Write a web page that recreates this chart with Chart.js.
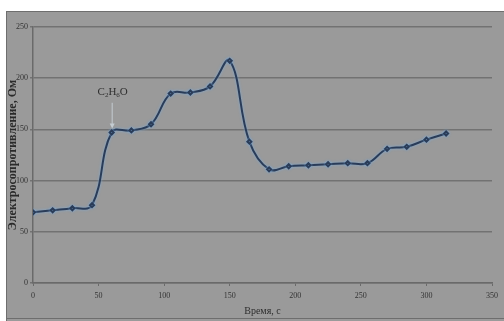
<!DOCTYPE html>
<html>
<head>
<meta charset="utf-8">
<script src="https://cdn.jsdelivr.net/npm/chart.js@4/dist/chart.umd.min.js"></script>
<style>
  html, body { margin: 0; padding: 0; background: #ffffff; }
  #wrap { width: 504px; height: 321px; position: relative; }
</style>
</head>
<body>
<div id="wrap"><canvas id="c" width="504" height="321"></canvas></div>
<script>
// ---- data ----
const timeValues = [0, 15, 30, 45, 60, 75, 90, 105, 120, 135, 150, 165, 180, 195, 210, 225, 240, 255, 270, 285, 300, 315];
const resistance = [69, 71, 73, 76, 147, 149, 155, 185, 186, 192, 217, 138, 111, 114, 115, 116, 117, 117, 131, 133, 140, 146];
const xTicks = [0, 50, 100, 150, 200, 250, 300, 350];
const yTicks = [0, 50, 100, 150, 200, 250];
const xTitle = "Время, с";
const yTitle = "Электросопротивление, Ом";
const annotation = { x: 60, lineTop: 176, lineBottom: 151, textY: 184 };

const points = timeValues.map((t, i) => ({ x: t, y: resistance[i] }));
const textColor = '#333333';

const bgPlugin = {
  id: 'bg',
  beforeDraw(chart) {
    const ctx = chart.ctx;
    ctx.save();
    ctx.fillStyle = '#ffffff';
    ctx.fillRect(0, 0, chart.width, chart.height);
    ctx.fillStyle = '#9a9a9a';
    ctx.fillRect(6, 11, chart.width - 6, chart.height - 11);
    ctx.strokeStyle = '#6e6e6e';
    ctx.lineWidth = 1;
    ctx.beginPath();
    ctx.moveTo(6, 11.5); ctx.lineTo(chart.width, 11.5);
    ctx.moveTo(6.5, 11); ctx.lineTo(6.5, chart.height);
    ctx.moveTo(6, 318.5); ctx.lineTo(chart.width, 318.5);
    ctx.stroke();
    ctx.restore();
  }
};

const glowPlugin = {
  id: 'glow',
  beforeDatasetDraw(chart) {
    const ctx = chart.ctx;
    ctx.save();
    ctx.shadowColor = 'rgba(120,170,220,0.9)';
    ctx.shadowBlur = 3;
  },
  afterDatasetDraw(chart) {
    chart.ctx.restore();
  }
};

const annoPlugin = {
  id: 'anno',
  afterDatasetsDraw(chart) {
    const ctx = chart.ctx;
    const xs = chart.scales.x, ys = chart.scales.y;
    const x = xs.getPixelForValue(annotation.x);
    const y1 = ys.getPixelForValue(annotation.lineTop);
    const y2 = ys.getPixelForValue(annotation.lineBottom);
    ctx.save();
    ctx.strokeStyle = '#c4ccd2';
    ctx.fillStyle = '#c4ccd2';
    ctx.lineWidth = 1;
    ctx.beginPath();
    ctx.moveTo(x + 0.5, y1);
    ctx.lineTo(x + 0.5, y2 - 3);
    ctx.stroke();
    ctx.beginPath();
    ctx.moveTo(x + 0.5, y2);
    ctx.lineTo(x - 2, y2 - 5);
    ctx.lineTo(x + 3, y2 - 5);
    ctx.closePath();
    ctx.fill();
    // label C2H6O
    const ty = ys.getPixelForValue(annotation.textY);
    ctx.fillStyle = '#2e2e2e';
    ctx.textBaseline = 'alphabetic';
    const big = '11px "Liberation Serif", serif';
    const small = '7px "Liberation Serif", serif';
    const parts = [['C', big, 0], ['2', small, 2], ['H', big, 0], ['6', small, 2], ['O', big, 0]];
    let total = 0;
    parts.forEach(p => { ctx.font = p[1]; total += ctx.measureText(p[0]).width; });
    let cx = x + 1 - total / 2;
    parts.forEach(p => {
      ctx.font = p[1];
      ctx.fillText(p[0], cx, ty + p[2]);
      cx += ctx.measureText(p[0]).width;
    });
    ctx.restore();
  }
};

new Chart(document.getElementById('c'), {
  type: 'line',
  data: {
    datasets: [{
      data: points,
      borderColor: '#2a3c58',
      borderWidth: 2,
      tension: 0.4,
      pointStyle: 'rectRot',
      pointRadius: 2,
      pointBackgroundColor: '#2a3c58',
      pointBorderColor: '#2a3c58',
      fill: false
    }]
  },
  options: {
    responsive: false,
    animation: false,
    devicePixelRatio: 1,
    layout: { padding: { left: 0, top: 27, right: 12, bottom: 0 } },
    plugins: { legend: { display: false }, tooltip: { enabled: false } },
    scales: {
      x: {
        type: 'linear',
        min: 0, max: 350,
        afterFit(s) { s.height = 38; },
        afterBuildTicks(s) { s.ticks = xTicks.map(v => ({ value: v })); },
        ticks: { color: textColor, font: { family: '"Liberation Serif", serif', size: 8 }, padding: 5, maxRotation: 0 },
        grid: { display: true, drawOnChartArea: false, drawTicks: true, tickLength: 3, color: '#6a6a6a' },
        border: { display: true, color: '#6a6a6a', width: 1.5 },
        title: { display: true, text: xTitle, color: '#2e2e2e', font: { family: '"Liberation Serif", serif', size: 10 }, padding: { top: 4, bottom: 4 } }
      },
      y: {
        min: 0, max: 250,
        afterFit(s) { s.width = 33; },
        afterBuildTicks(s) { s.ticks = yTicks.map(v => ({ value: v })); },
        ticks: { color: textColor, font: { family: '"Liberation Serif", serif', size: 8 }, padding: 2 },
        grid: { color: '#727272', lineWidth: 1.5, drawTicks: true, tickLength: 3 },
        border: { display: true, color: '#6a6a6a', width: 1.5 },
        title: { display: true, text: yTitle, color: '#2a2a2a', font: { family: '"Liberation Serif", serif', size: 12, weight: 'bold' }, padding: { top: 6, bottom: 6 } }
      }
    }
  },
  plugins: [bgPlugin, glowPlugin, annoPlugin]
});
</script>
</body>
</html>
